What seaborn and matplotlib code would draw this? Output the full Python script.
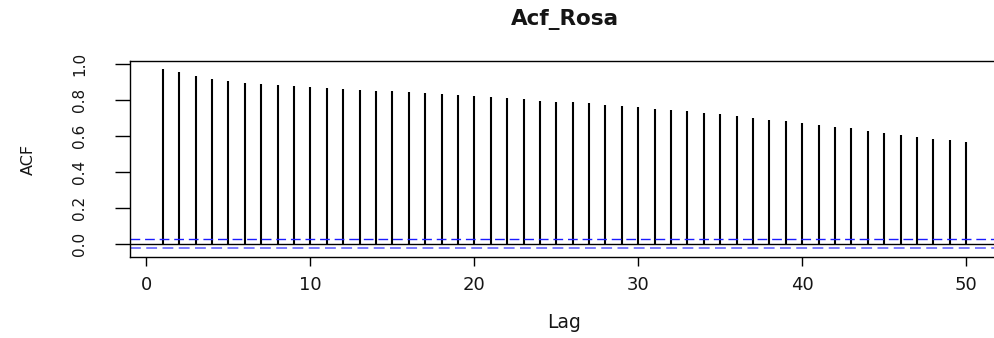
import numpy as np
import pandas as pd
import seaborn as sns
import matplotlib
matplotlib.use("Agg")
import matplotlib.pyplot as plt

lags = list(range(1, 51))
acf_values = [0.974, 0.954, 0.933, 0.917, 0.906, 0.896, 0.891, 0.881, 0.876, 0.870,
              0.865, 0.859, 0.854, 0.848, 0.848, 0.843, 0.839, 0.833, 0.828, 0.822,
              0.817, 0.811, 0.806, 0.796, 0.791, 0.787, 0.781, 0.770, 0.765, 0.759,
              0.748, 0.743, 0.737, 0.728, 0.722, 0.711, 0.702, 0.691, 0.681, 0.670,
              0.659, 0.650, 0.643, 0.628, 0.617, 0.606, 0.596, 0.585, 0.576, 0.565]
ci_upper = 0.026
ci_lower = -0.023
x_ticks = [0, 10, 20, 30, 40, 50]
y_ticks = [0.0, 0.2, 0.4, 0.6, 0.8, 1.0]
y_tick_labels = ["0.0", "0.2", "0.4", "0.6", "0.8", "1.0"]
title = "Acf_Rosa"
xlabel = "Lag"
ylabel = "ACF"

df = pd.DataFrame({"lag": lags, "acf": acf_values})

sns.set_theme(style="white")
plt.rcParams["font.family"] = ["DejaVu Sans"]

W, H = 995, 338
fig = plt.figure(figsize=(W / 100, H / 100), dpi=100)
left, right, top, bottom = 130, 999, 61, 257
ax = fig.add_axes([left / W, (H - bottom) / H, (right - left) / W, (bottom - top) / H])

ax.vlines(df["lag"], 0, df["acf"], color="black", linewidth=1.5)
ax.axhline(0, color="black", linewidth=1.0)
ax.axhline(ci_upper, color="#1a1aff", linewidth=1.0, linestyle=(0, (7, 3.5)))
ax.axhline(ci_lower, color="#6f6fff", linewidth=1.3, linestyle=(0, (6, 3)))

ax.set_xlim(-1.0, 52.0)
ax.set_ylim(-0.072, 1.017)
ax.set_xticks(x_ticks)
ax.set_xticklabels([str(t) for t in x_ticks])
ax.set_yticks(y_ticks)
ax.set_yticklabels(y_tick_labels, rotation=90, va="center")

for s in ax.spines.values():
    s.set_visible(True)
    s.set_color("black")
    s.set_linewidth(1.0)

txt = "#151515"
ax.tick_params(axis="x", direction="out", length=6.5, width=1, color="black",
               pad=7.5, labelsize=13, labelcolor=txt, bottom=True)
ax.tick_params(axis="y", direction="out", length=11, width=1, color="black",
               pad=20, labelsize=11, labelcolor=txt, left=True)

ax.set_xlabel(xlabel, fontsize=13.5, color=txt, labelpad=13)
ax.set_ylabel(ylabel, fontsize=11.5, color=txt, labelpad=26)
fig.text((left + right) / 2 / W, 1 - 20 / H, title, ha="center", va="center",
         fontsize=15.5, fontweight="bold", color=txt)

fig.savefig("out.png", dpi=100)
